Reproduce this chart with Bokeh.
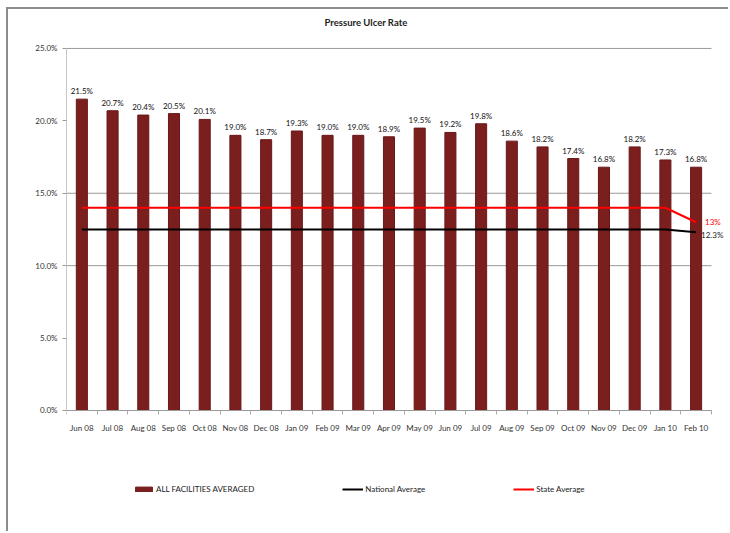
from bokeh.plotting import figure
from bokeh.models import (ColumnDataSource, FixedTicker, PrintfTickFormatter,
                          LabelSet, Legend, LegendItem, Label)
from bokeh.core.properties import value
from bokeh.embed import file_html
from bokeh.resources import INLINE

title_text = "Pressure Ulcer Rate"
categories = ["Jun 08", "Jul 08", "Aug 08", "Sep 08", "Oct 08", "Nov 08", "Dec 08",
              "Jan 09", "Feb 09", "Mar 09", "Apr 09", "May 09", "Jun 09", "Jul 09",
              "Aug 09", "Sep 09", "Oct 09", "Nov 09", "Dec 09", "Jan 10", "Feb 10"]
facilities = [21.5, 20.7, 20.4, 20.5, 20.1, 19.0, 18.7, 19.3, 19.0, 19.0, 18.9,
              19.5, 19.2, 19.8, 18.6, 18.2, 17.4, 16.8, 18.2, 17.3, 16.8]
national = [12.5, 12.5, 12.5, 12.5, 12.5, 12.5, 12.5, 12.5, 12.5, 12.5, 12.5,
            12.5, 12.5, 12.5, 12.5, 12.5, 12.5, 12.5, 12.5, 12.5, 12.3]
state = [14.0, 14.0, 14.0, 14.0, 14.0, 14.0, 14.0, 14.0, 14.0, 14.0, 14.0,
         14.0, 14.0, 14.0, 14.0, 14.0, 14.0, 14.0, 14.0, 14.0, 13.0]
y_ticks = [0, 5, 10, 15, 20, 25]
grid_ticks = [10, 15, 25]

FONT = "Lato"
n = len(categories)
xs = list(range(n))
x_lo, x_hi = -0.5, n - 0.5
y_top = 25

src = ColumnDataSource(dict(x=xs, v=facilities,
                            lbl=[f"{v:.1f}%" for v in facilities]))

p = figure(width=722, height=524, x_range=(x_lo, x_hi + 0.62),
           y_range=(-8.22, y_top + 2.69), output_backend="svg", toolbar_location=None,
           title=None, min_border_left=58, min_border_right=0, min_border_top=0,
           min_border_bottom=4)
p.styles = {"margin-left": "6px", "margin-top": "7px",
            "border-left": "2px solid #8c8c8c", "border-top": "2px solid #8c8c8c"}
p.outline_line_color = None
p.background_fill_color = "white"

p.add_layout(Label(x=(x_lo + x_hi) / 2, y=y_top, x_offset=-23, y_offset=26,
                   text=title_text, text_align="center", text_baseline="middle",
                   text_font=FONT, text_font_size="9.5px", text_font_style="bold",
                   text_color="#222222"))

p.xgrid.visible = False
p.ygrid.visible = False
p.segment(x0=[x_lo] * len(grid_ticks), x1=[x_hi] * len(grid_ticks),
          y0=grid_ticks, y1=grid_ticks, line_color="#9a9a9a", line_width=1)

p.yaxis.ticker = FixedTicker(ticks=y_ticks)
p.yaxis.bounds = (0, y_top)
p.yaxis.formatter = PrintfTickFormatter(format="%.1f%%")
p.yaxis.axis_line_color = "#c8c8c8"
p.yaxis.major_tick_line_color = "#999999"
p.yaxis.major_tick_out = 4
p.yaxis.major_tick_in = 0
p.yaxis.minor_tick_line_color = None
p.yaxis.major_label_text_font = FONT
p.yaxis.major_label_text_font_size = "8px"
p.yaxis.major_label_text_color = "#333333"
p.yaxis.major_label_standoff = 5

p.xaxis.fixed_location = 0
p.xaxis.bounds = (x_lo, x_hi)
p.xaxis.ticker = FixedTicker(ticks=xs, minor_ticks=[i - 0.5 for i in range(n + 1)])
p.xaxis.major_label_overrides = {i: c for i, c in zip(xs, categories)}
p.xaxis.axis_line_color = "#999999"
p.xaxis.major_tick_line_color = None
p.xaxis.minor_tick_line_color = "#aaaaaa"
p.xaxis.minor_tick_out = 4
p.xaxis.minor_tick_in = 0
p.xaxis.major_label_text_font = FONT
p.xaxis.major_label_text_font_size = "8px"
p.xaxis.major_label_text_color = "#333333"
p.xaxis.major_label_standoff = 7

bars = p.vbar(x="x", top="v", width=0.36, source=src, fill_color="#7B1E1E",
              line_color="#6a1818")
nat = p.line(xs, national, line_color="black", line_width=2)
sta = p.line(xs, state, line_color="red", line_width=2)

p.add_layout(LabelSet(x="x", y="v", text="lbl", source=src, y_offset=3,
                      text_align="center", text_baseline="bottom",
                      text_font=value(FONT), text_font_size="8px",
                      text_color="#111111"))

end_state = ColumnDataSource(dict(x=[xs[-1]], y=[state[-1]], t=[f"{state[-1]:g}%"]))
end_nat = ColumnDataSource(dict(x=[xs[-1]], y=[national[-1]], t=[f"{national[-1]:g}%"]))
p.add_layout(LabelSet(x="x", y="y", text="t", source=end_state, x_offset=9, y_offset=0,
                      text_baseline="middle", text_font=value(FONT),
                      text_font_size="8px", text_color="red"))
p.add_layout(LabelSet(x="x", y="y", text="t", source=end_nat, x_offset=5, y_offset=-3,
                      text_baseline="middle", text_font=value(FONT),
                      text_font_size="8px", text_color="#222222"))

legend = Legend(items=[LegendItem(label="ALL FACILITIES AVERAGED", renderers=[bars]),
                       LegendItem(label="National Average", renderers=[nat]),
                       LegendItem(label="State Average", renderers=[sta])],
                orientation="horizontal", location=(67, 35), spacing=88,
                glyph_width=21, glyph_height=6, label_standoff=2,
                label_text_font=FONT, label_text_font_size="8px",
                label_height=8, label_text_color="#222222", border_line_color=None,
                background_fill_alpha=0, padding=0, margin=0)
p.add_layout(legend, "center")

open("out.html", "w").write(file_html(p, INLINE))
